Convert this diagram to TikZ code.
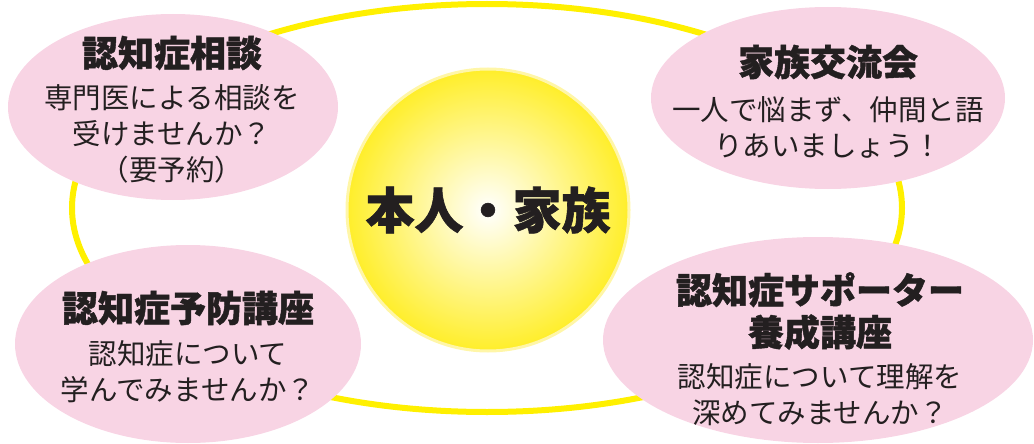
\documentclass[tikz,border=0pt]{standalone}
\usepackage{fontspec}
\newfontfamily\jpfont{Noto Sans CJK JP}[BoldFeatures={FakeBold=1.2}]
\usetikzlibrary{shapes.geometric}
\definecolor{ringline}{HTML}{FFF000}
\definecolor{bubblepink}{HTML}{F8D4E4}
\definecolor{sunedge}{HTML}{FFEE2A}
\definecolor{sunrim}{HTML}{FFF6A8}
\definecolor{inkgray}{HTML}{231F20}
\tikzset{bubble/.style={ellipse,fill=bubblepink,inner sep=0pt},
headtext/.style={text=inkgray,align=center,font=\jpfont\bfseries\fontsize{36}{42}\selectfont},
bodytext/.style={text=inkgray,align=center,font=\jpfont\fontsize{28.5}{36}\selectfont},
sun/.style={circle,minimum size=282pt,draw=sunrim,line width=3pt,inner color=white,outer color=sunedge,text=inkgray,font=\jpfont\bfseries\fontsize{49}{49}\selectfont}}

\begin{document}
\begin{tikzpicture}[x=1pt,y=-1pt]
\useasboundingbox (0,0) rectangle (1034,444);
\draw[ringline,line width=6pt] (487,208) ellipse [x radius=415, y radius=204];
\node[bubble,minimum width=330pt,minimum height=186pt] (soudanbg) at (173,107) {};
\node[bubble,minimum width=354pt,minimum height=182pt] (kouryubg) at (828,98) {};
\node[bubble,minimum width=346pt,minimum height=198pt] (yoboubg) at (188,344) {};
\node[bubble,minimum width=430pt,minimum height=206pt] (supporterbg) at (818,340) {};
\node[sun] (honnin) at (488,210) {本人・家族};
\node[headtext] (soudan) at (172,53) {認知症相談};
\node[bodytext] (soudantext) at (172,134) {専門医による相談を\\受けませんか？\\（要予約）};
\node[headtext] (kouryu) at (828,62) {家族交流会};
\node[bodytext] (kouryutext) at (828,127) {一人で悩まず、仲間と語\\りあいましょう！};
\node[headtext] (yobou) at (188,308) {認知症予防講座};
\node[bodytext] (yoboutext) at (188,372) {認知症について\\学んでみませんか？};
\node[headtext] (supporter) at (820,311) {認知症サポーター\\養成講座};
\node[bodytext] (supportertext) at (820,395) {認知症について理解を\\深めてみませんか？};
\end{tikzpicture}
\end{document}
